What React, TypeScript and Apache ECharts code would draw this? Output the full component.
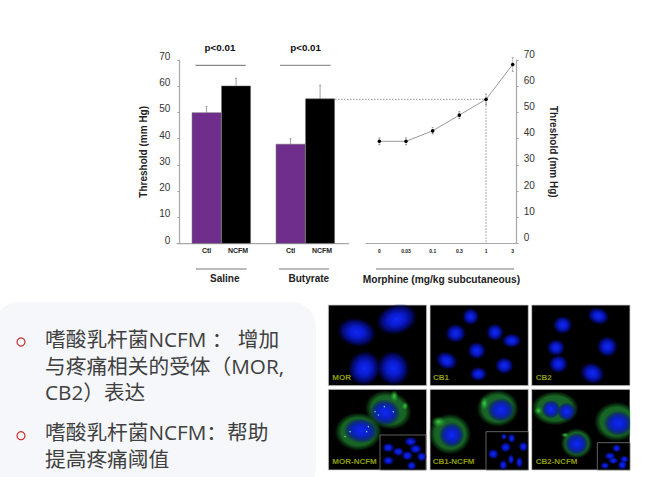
import React, { useEffect, useRef } from "react";
import * as echarts from "echarts";

const groups = ["Saline", "Butyrate"];
const ctlValues = [50, 38];
const ctlErrors = [2.2, 2];
const ncfmValues = [60.2, 55.3];
const ncfmErrors = [2.8, 5.1];
const doses = ["0", "0.03", "0.1", "0.3", "1", "3"];
const morphineValues = [39, 39, 43, 49, 55, 68.3];
const morphineErrors = [1.3, 1.3, 1.2, 1.3, 2, 2.6];
const bulletOne = ["嗜酸乳杆菌NCFM ： 增加", "与疼痛相关的受体（MOR,", "CB2）表达"];
const bulletTwo = ["嗜酸乳杆菌NCFM：帮助", "提高疼痛阈值"];

const FONT = "Liberation Sans, Arial, sans-serif";
const CJK = '"Open Sans", "Noto Sans CJK SC"';
const AXIS = "#a8a8a8";
const TXT = "#333";

// picture helpers: coordinates given in a 3x crop whose origin is (325,300)
const px = (x: number) => 325 + x / 3;
const py = (y: number) => 300 + y / 3;

function blob(x: number, y: number, rx: number, ry: number, kind: string, rot = 0, z = 3) {
  const stops =
    kind === "blue"
      ? [
          { offset: 0, color: "rgba(15,40,245,1)" },
          { offset: 0.4, color: "rgba(10,28,215,0.95)" },
          { offset: 0.72, color: "rgba(5,15,170,0.65)" },
          { offset: 1, color: "rgba(0,0,100,0)" },
        ]
      : kind === "bright"
      ? [
          { offset: 0, color: "rgba(60,215,70,0.95)" },
          { offset: 1, color: "rgba(40,170,50,0)" },
        ]
      : [
          { offset: 0, color: "rgba(25,110,60,0.9)" },
          { offset: 0.72, color: "rgba(30,125,45,0.8)" },
          { offset: 0.88, color: "rgba(20,95,30,0.42)" },
          { offset: 1, color: "rgba(10,60,20,0)" },
        ];
  return {
    type: "ellipse", x: px(x), y: py(y), rotation: rot, z, silent: true,
    shape: { cx: 0, cy: 0, rx: rx / 3, ry: ry / 3 },
    style: { fill: { type: "radial", x: 0.5, y: 0.5, r: 0.5, colorStops: stops } },
  };
}

const panels = [
  [10, 15, 305, 257], [315, 15, 610, 257], [620, 15, 915, 257],
  [10, 268, 305, 510], [315, 268, 610, 510], [620, 268, 915, 510],
];
const blueCells: number[][] = [
  [95, 97, 60, 44, -0.2], [215, 58, 64, 46, 0.3], [118, 205, 50, 54, -0.3], [205, 205, 50, 54, 0.3],
  [437, 50, 26, 26], [392, 100, 32, 29], [510, 97, 27, 27], [560, 122, 30, 22], [455, 152, 28, 27],
  [365, 182, 34, 27, -0.4], [538, 197, 29, 26], [460, 222, 27, 22],
  [713, 75, 30, 28], [820, 48, 34, 26, -0.3], [693, 143, 28, 26], [847, 140, 32, 32], [700, 192, 30, 28], [802, 220, 38, 32, -0.4],
];
const greenCells: number[][] = [
  [190, 330, 72, 58, -0.3], [100, 395, 72, 58], [375, 402, 64, 62], [518, 325, 64, 56],
  [690, 325, 72, 52], [875, 365, 68, 60], [755, 430, 48, 46],
];
const brightSpots: number[][] = [
  [208, 288, 12, 18], [240, 318, 10, 12], [340, 365, 22, 16], [478, 310, 12, 20], [720, 405, 12, 8], [640, 332, 12, 12],
];
const blueInCells: number[][] = [
  [180, 338, 46, 40, -0.2], [108, 392, 52, 38, -0.1], [380, 405, 38, 38], [528, 330, 42, 36],
  [678, 328, 28, 28], [725, 335, 28, 28], [880, 370, 44, 38], [755, 432, 36, 34],
];
const sparkles: number[][] = [
  [160, 345], [178, 320], [195, 352], [205, 335], [170, 328], [90, 385], [115, 412], [130, 380], [100, 400], [75, 395],
  [185, 355], [125, 395], [60, 410], [150, 335], [105, 415],
];
const insets = [[165, 405, 303, 510], [483, 395, 610, 510], [817, 428, 915, 510]];
const insetCells: number[][] = [
  [190, 443, 19, 15], [257, 425, 20, 15], [220, 455, 18, 14], [272, 447, 20, 15], [247, 467, 18, 15], [290, 470, 16, 15], [190, 482, 18, 14], [260, 497, 15, 14],
  [537, 410, 9, 10], [560, 415, 12, 15], [542, 442, 17, 16], [595, 440, 15, 16], [505, 462, 17, 16], [558, 478, 10, 16], [583, 487, 11, 18], [535, 495, 13, 16],
  [875, 445, 14, 13], [855, 468, 17, 12], [865, 482, 16, 11], [898, 478, 14, 12], [840, 497, 14, 11], [892, 495, 15, 15],
];
const panelLabels: [string, number, number][] = [
  ["MOR", 22, 231], ["CB1", 324, 231], ["CB2", 632, 231],
  ["MOR-NCFM", 22, 483], ["CB1-NCFM", 323, 483], ["CB2-NCFM", 632, 483],
];

function buildGraphics() {
  const els: any[] = [];
  els.push({ type: "rect", z: 1, silent: true, shape: { x: -5, y: 302, width: 321, height: 190, r: 24 }, style: { fill: "#f5f7fa" } });
  [342, 435.7].forEach((cy) =>
    els.push({ type: "circle", z: 2, silent: true, shape: { cx: 21, cy, r: 4 }, style: { fill: "none", stroke: "#c8302c", lineWidth: 1.2 } })
  );
  const addBlock = (lines: string[], y: number, lh: number) =>
    els.push({ type: "text", z: 2, silent: true, x: 45, y, style: { text: lines.join("\n"), font: `20.7px ${CJK}`, fill: "#404040", verticalAlign: "middle", lineHeight: lh } });
  addBlock(bulletOne, 365.5, 26.2);
  addBlock(bulletTwo, 445.5, 27);

  // photo panels
  panels.forEach(([a, b, c, d]) =>
    els.push({ type: "rect", z: 2, silent: true, shape: { x: px(a), y: py(b), width: (c - a) / 3, height: (d - b) / 3 }, style: { fill: "#000", stroke: "#cfcfcf", lineWidth: 0.8 } })
  );
  greenCells.forEach(([x, y, rx, ry, r]) => els.push(blob(x, y, rx, ry, "green", r || 0, 3)));
  brightSpots.forEach(([x, y, rx, ry]) => els.push(blob(x, y, rx, ry, "bright", 0, 3)));
  blueCells.forEach(([x, y, rx, ry, r]) => els.push(blob(x, y, rx, ry, "blue", r || 0, 4)));
  blueInCells.forEach(([x, y, rx, ry, r]) => els.push(blob(x, y, rx, ry, "blue", r || 0, 4)));
  sparkles.forEach(([x, y]) =>
    els.push({ type: "circle", z: 5, silent: true, shape: { cx: px(x), cy: py(y), r: 0.7 }, style: { fill: "#5fe0b0" } })
  );
  // cover what leaves the rightmost panels
  els.push({ type: "rect", z: 6, silent: true, shape: { x: px(915.5), y: 385, width: 25, height: 92 }, style: { fill: "#fff" } });
  insets.forEach(([a, b, c, d]) =>
    els.push({ type: "rect", z: 7, silent: true, shape: { x: px(a), y: py(b), width: (c - a) / 3, height: (d - b) / 3 }, style: { fill: "#000", stroke: "#777", lineWidth: 0.8 } })
  );
  insetCells.forEach(([x, y, rx, ry]) => els.push(blob(x, y, rx, ry, "blue", 0, 8)));
  panelLabels.forEach(([t, x, y]) =>
    els.push({ type: "text", z: 9, silent: true, x: px(x), y: py(y), style: { text: t, font: `bold 8px ${FONT}`, fill: "#8f9c12", verticalAlign: "middle" } })
  );

  // chart annotations
  const rule = (x1: number, y: number, x2: number, color = "#777", w = 1) =>
    els.push({ type: "line", z: 10, silent: true, shape: { x1, y1: y, x2, y2: y }, style: { stroke: color, lineWidth: w } });
  rule(195.5, 65.3, 245.7, "#888", 1.3);
  rule(280, 65.3, 330.6);
  rule(196, 269, 246.5);
  rule(279, 269, 329);
  rule(376, 269, 514);
  rule(176.7, 243.7, 349, AXIS, 1.2);
  [["p<0.01", 220], ["p<0.01", 305.6]].forEach(([t, x]) =>
    els.push({ type: "text", z: 10, silent: true, x, y: 47, style: { text: t, font: `bold 9.8px ${FONT}`, fill: "#111", align: "center", verticalAlign: "middle" } })
  );
  return els;
}

const errorBar = (side: number) => (params: any, api: any) => {
  const v = api.value(1);
  const e = api.value(2);
  const bar = api.size([1, 0])[0] * 0.176;
  const base = api.coord([api.value(0), v]);
  const top = api.coord([api.value(0), v + e]);
  const x = base[0] + side * bar;
  return {
    type: "group",
    children: [
      { type: "line", shape: { x1: x, y1: base[1], x2: x, y2: top[1] }, style: { stroke: "#888", lineWidth: 0.8 } },
      { type: "line", shape: { x1: x - 1, y1: top[1], x2: x + 1, y2: top[1] }, style: { stroke: "#888", lineWidth: 0.8 } },
    ],
  };
};

const doseErrorBar = (params: any, api: any) => {
  const i = api.value(0);
  const v = api.value(1);
  const e = api.value(2);
  const lo = api.coord([i, v - e]);
  const hi = api.coord([i, v + e]);
  return {
    type: "group",
    children: [
      { type: "line", shape: { x1: lo[0], y1: lo[1], x2: hi[0], y2: hi[1] }, style: { stroke: "#666", lineWidth: 0.8, lineDash: [1, 1] } },
      { type: "line", shape: { x1: lo[0] - 1, y1: lo[1], x2: lo[0] + 1, y2: lo[1] }, style: { stroke: "#666", lineWidth: 0.6 } },
      { type: "line", shape: { x1: hi[0] - 1, y1: hi[1], x2: hi[0] + 1, y2: hi[1] }, style: { stroke: "#666", lineWidth: 0.6 } },
    ],
  };
};

const GUIDE_START = -1.66;
const guideRender = (params: any, api: any) => {
  const i = api.value(0);
  const v = api.value(1);
  const p = api.coord([i, v]);
  const start = api.coord([GUIDE_START, v]);
  const foot = api.coord([i, 0]);
  const style = { stroke: "#777", lineWidth: 0.8, lineDash: [1.5, 1.5] };
  return {
    type: "group",
    children: [
      { type: "line", shape: { x1: start[0], y1: p[1], x2: p[0], y2: p[1] }, style },
      { type: "line", shape: { x1: p[0], y1: p[1], x2: foot[0], y2: foot[1] }, style },
    ],
  };
};

const tickLabel = (lift: number) => ({
  fontFamily: FONT, fontSize: 10, color: TXT, verticalAlign: "bottom", lineHeight: lift,
});

export default function App() {
  const ref = useRef<HTMLDivElement>(null);
  useEffect(() => {
    const chart = echarts.init(ref.current!, undefined, { renderer: "svg" });
    const barShared = { type: "bar", barWidth: 29.5, barGap: "0%", xAxisIndex: 0, yAxisIndex: 0, z: 20 };
    chart.setOption({
      animation: false,
      backgroundColor: "#fff",
      graphic: { elements: buildGraphics() },
      grid: [
        { left: 179.3, top: 60, width: 168, height: 183.6 },
        { left: 366, top: 60, width: 150.7, height: 183.6 },
      ],
      xAxis: [
        {
          type: "category", gridIndex: 0, data: groups,
          axisLine: { show: true, lineStyle: { color: AXIS, width: 1.2 } },
          axisTick: { show: false },
          axisLabel: { fontFamily: FONT, fontSize: 10, fontWeight: "bold", color: "#222", margin: 30, padding: [0, 0, 0, 7] },
        },
        {
          type: "value", gridIndex: 1, min: -0.5, max: 5.15, splitLine: { show: false },
          axisLine: { show: true, onZero: false, lineStyle: { color: AXIS, width: 1.2 } },
          axisTick: { show: false },
          axisLabel: {
            customValues: doses.map((_, i) => i),
            formatter: (v: number) => doses[v] ?? "",
            fontFamily: FONT, fontSize: 5, fontWeight: "bold", color: "#222", margin: 5,
          },
          name: "Morphine (mg/kg subcutaneous)", nameLocation: "middle", nameGap: 31,
          nameTextStyle: { fontFamily: FONT, fontSize: 10.2, fontWeight: "bold", color: "#222" },
        },
      ],
      yAxis: [
        {
          type: "value", gridIndex: 0, min: 0, max: 70, interval: 10, splitLine: { show: false },
          axisLine: { show: true, onZero: false, lineStyle: { color: AXIS, width: 1.2 } },
          axisTick: { show: true, length: 2, lineStyle: { color: AXIS } },
          axisLabel: { ...tickLabel(7), margin: 9 },
          name: "Threshold (mm Hg)", nameLocation: "middle", nameGap: 31, nameRotate: 90,
          nameTextStyle: { fontFamily: FONT, fontSize: 10, fontWeight: "bold", color: "#222" },
        },
        {
          type: "value", gridIndex: 1, position: "right", min: 0, max: 70, interval: 10, splitLine: { show: false },
          axisLine: { show: true, onZero: false, lineStyle: { color: AXIS, width: 1.2 } },
          axisTick: { show: true, length: 2, lineStyle: { color: AXIS } },
          axisLabel: { ...tickLabel(12), margin: 7 },
          name: "Threshold (mm Hg)", nameLocation: "middle", nameGap: 32, nameRotate: -90,
          nameTextStyle: { fontFamily: FONT, fontSize: 10, fontWeight: "bold", color: "#222" },
        },
      ],
      series: [
        {
          ...barShared, name: "Ctl", data: ctlValues,
          itemStyle: { color: "#6f2e8c", borderColor: "#666", borderWidth: 0.5 },
          label: { show: true, position: "bottom", distance: 3, formatter: "{a}", fontFamily: FONT, fontSize: 7, fontWeight: "bold", color: "#222" },
        },
        {
          ...barShared, name: "NCFM", data: ncfmValues,
          itemStyle: { color: "#000", borderColor: "#666", borderWidth: 0.5 },
          label: { show: true, position: "bottom", distance: 3, offset: [2, 0], formatter: "{a}", fontFamily: FONT, fontSize: 7, fontWeight: "bold", color: "#222" },
        },
        {
          type: "custom", xAxisIndex: 0, yAxisIndex: 0, z: 19, renderItem: errorBar(-1),
          data: ctlValues.map((v, i) => [i, v, ctlErrors[i]]),
        },
        {
          type: "custom", xAxisIndex: 0, yAxisIndex: 0, z: 19, renderItem: errorBar(1),
          data: ncfmValues.map((v, i) => [i, v, ncfmErrors[i]]),
        },
        {
          type: "custom", xAxisIndex: 1, yAxisIndex: 1, z: 18, clip: false, renderItem: guideRender,
          encode: { x: 0, y: 1 },
          data: [[4, morphineValues[4]]],
        },
        {
          type: "custom", xAxisIndex: 1, yAxisIndex: 1, z: 19, renderItem: doseErrorBar,
          data: morphineValues.map((v, i) => [i, v, morphineErrors[i]]),
        },
        {
          type: "line", xAxisIndex: 1, yAxisIndex: 1, z: 20,
          data: morphineValues.map((v, i) => [i, v]),
          symbol: "circle", symbolSize: 3.6,
          itemStyle: { color: "#000" },
          lineStyle: { color: "#999", width: 1 },
        },
      ],
    });
    return () => chart.dispose();
  }, []);
  return <div ref={ref} style={{ position: "fixed", left: 0, top: 0, width: 650, height: 477 }} />;
}
